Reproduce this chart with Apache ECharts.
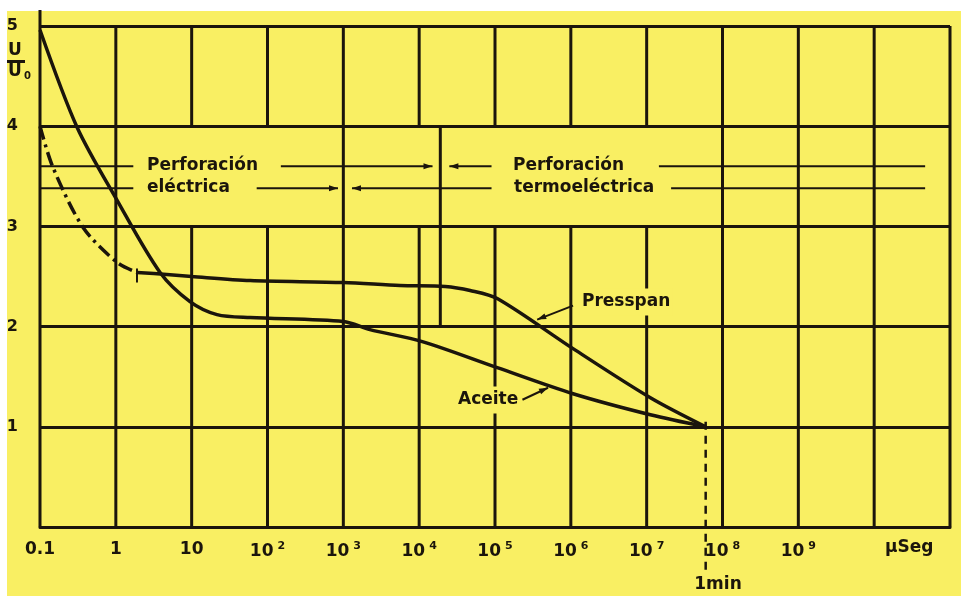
<!DOCTYPE html>
<html>
<head>
<meta charset="utf-8">
<script src="https://cdn.jsdelivr.net/npm/echarts@6/dist/echarts.min.js"></script>
</head>
<body style="margin:0;background:#fff">
<div id="main" style="width:961px;height:596px;"></div>
<script>
// tiempo en µs (eje log), tensión relativa U/U0
var presspanDashX = [0.1, 0.148, 0.37, 1.04, 1.9];
var presspanDashY = [4.0, 3.59, 2.99, 2.64, 2.54];
var presspanX = [1.9, 4.7, 10, 59, 1000, 5600, 22000, 47000, 107000, 1070000, 11200000, 60000000];
var presspanY = [2.54, 2.52, 2.50, 2.46, 2.44, 2.41, 2.40, 2.36, 2.28, 1.78, 1.29, 1.0];
var aceiteX = [0.1, 0.308, 1.04, 3.83, 9.5, 21.6, 59, 1000, 2240, 11000, 107000, 1070000, 11200000, 60000000];
var aceiteY = [4.96, 3.99, 3.26, 2.54, 2.25, 2.12, 2.09, 2.05, 1.97, 1.85, 1.59, 1.33, 1.12, 1.0];

// etiquetas del eje x, por exponente -1 .. 11
var xTickLabels = ['0.1', '1', '10', '10^2', '10^3', '10^4', '10^5', '10^6', '10^7', '10^8', '10^9', '', ''];

// lineas verticales de la cuadricula: [x, y desde, y hasta]
var gridLines = [
    [0.1, 0, 5.16], [1, 0, 5], [10, 0, 3], [10, 4, 5], [100, 0, 3], [100, 4, 5],
    [1e3, 0, 5], [1e4, 0, 3], [1e4, 4, 5], [1e5, 0, 3], [1e5, 4, 5],
    [1e6, 0, 3], [1e6, 4, 5], [1e7, 0, 3], [1e7, 4, 5],
    [1e8, 0, 5], [1e9, 0, 5], [1e10, 0, 5], [1e11, 0, 5],
    [19000, 2, 4]
];
// 1 min = 6e7 µs
var oneMin = [[60000000, 1.05, -0.45]];

// flechas / indicaciones: [x1, y1, x2, y2, punta inicio, punta fin]
var notes = [
    [0.1, 3.6, 1.7, 3.6, 0, 0], [150, 3.6, 15000, 3.6, 0, 1],
    [25000, 3.6, 90000, 3.6, 1, 0], [14500000, 3.6, 4.7e10, 3.6, 0, 0],
    [0.1, 3.38, 1.7, 3.38, 0, 0], [72, 3.38, 850, 3.38, 0, 1],
    [1300, 3.38, 90000, 3.38, 1, 0], [21000000, 3.38, 4.7e10, 3.38, 0, 0],
    [1070000, 2.21, 360000, 2.07, 0, 1],
    [230000, 1.27, 500000, 1.39, 0, 1],
    [1.9, 2.58, 1.9, 2.44, 0, 0]
];

var yellow = '#f9ef63';
var ink = '#1b150c';
var font = '"DejaVu Sans", sans-serif';

function zip(xs, ys) {
    return xs.map(function (x, i) { return [x, ys[i]]; });
}

function segItem(params, api) {
    var a = api.coord([api.value(0), api.value(1)]);
    var b = api.coord([api.value(0), api.value(2)]);
    return {
        type: 'line',
        shape: { x1: a[0], y1: a[1], x2: b[0], y2: b[1] },
        style: { stroke: ink, lineWidth: params.seriesName === 'min' ? 2.5 : 3, lineDash: params.seriesName === 'min' ? [8, 6] : null }
    };
}

function head(p, q) {
    // punta de flecha en p, apuntando desde q hacia p
    var dx = p[0] - q[0], dy = p[1] - q[1];
    var len = Math.sqrt(dx * dx + dy * dy) || 1;
    dx /= len; dy /= len;
    var L = 9, W = 3;
    return {
        type: 'polygon',
        shape: { points: [p, [p[0] - dx * L - dy * W, p[1] - dy * L + dx * W], [p[0] - dx * L + dy * W, p[1] - dy * L - dx * W]] },
        style: { fill: ink }
    };
}

function noteItem(params, api) {
    var a = api.coord([api.value(0), api.value(1)]);
    var b = api.coord([api.value(2), api.value(3)]);
    var kids = [{ type: 'line', shape: { x1: a[0], y1: a[1], x2: b[0], y2: b[1] }, style: { stroke: ink, lineWidth: 2 } }];
    if (api.value(4)) kids.push(head(a, b));
    if (api.value(5)) kids.push(head(b, a));
    return { type: 'group', children: kids };
}

function txt(s, x, y, extra) {
    var st = { text: s, x: x, y: y, font: 'bold 17px ' + font, fill: ink, verticalAlign: 'middle' };
    for (var k in extra) st[k] = extra[k];
    return { type: 'text', z: 10, style: st };
}

function curve(name, xs, ys, dash) {
    return {
        name: name, type: 'line', data: zip(xs, ys),
        smooth: 0.3, showSymbol: false, z: 4,
        lineStyle: { color: ink, width: 3.5, type: dash || 'solid' }
    };
}

var chart = echarts.init(document.getElementById('main'));
chart.setOption({
    backgroundColor: '#ffffff',
    animation: false,
    grid: { left: 40, top: 26, width: 910, height: 501 },
    xAxis: {
        type: 'log', logBase: 10, min: 0.1, max: 1e11, interval: 1,
        axisLine: { show: true, lineStyle: { color: ink, width: 3 } },
        axisTick: { show: false },
        splitLine: { show: false },
        axisLabel: {
            margin: 14,
            formatter: function (v) {
                var e = Math.round(Math.log10(v));
                var s = xTickLabels[e + 1] || '';
                if (s.indexOf('^') > 0) {
                    var p = s.split('^');
                    return '{b|' + p[0] + '}{s|' + p[1] + '}';
                }
                return '{b|' + s + '}';
            },
            rich: {
                b: { fontFamily: font, fontWeight: 'bold', fontSize: 17, color: ink },
                s: { fontFamily: font, fontWeight: 'bold', fontSize: 11, color: ink, padding: [0, 0, 10, 4] }
            }
        }
    },
    yAxis: {
        type: 'value', min: 0, max: 5, interval: 1,
        axisLine: { show: false },
        axisTick: { show: false },
        splitLine: { show: true, lineStyle: { color: ink, width: 3 } },
        axisLabel: {
            margin: 22, color: ink, fontFamily: font, fontWeight: 'bold', fontSize: 16,
            formatter: function (v) { return v === 0 ? '' : String(v); }
        }
    },
    graphic: [
        { type: 'rect', z: -10, silent: true, shape: { x: 7, y: 11, width: 954, height: 585 }, style: { fill: yellow } },
        txt('U', 15, 51, { align: 'center' }),
        { type: 'rect', z: 20, shape: { x: 7, y: 60, width: 18, height: 3 }, style: { fill: ink } },
        txt('U', 15, 72, { align: 'center' }),
        txt('0', 24, 76, { font: 'bold 10px ' + font }),
        txt('Perforación', 147, 166),
        txt('eléctrica', 147, 188),
        txt('Perforación', 513, 166),
        txt('termoeléctrica', 514, 188),
        txt('Presspan', 580, 302, { backgroundColor: yellow, padding: [5, 2] }),
        txt('Aceite', 456, 400, { backgroundColor: yellow, padding: [5, 2] }),
        txt('µSeg', 885, 548),
        txt('1min', 718, 585, { align: 'center' })
    ],
    series: [
        { name: 'grid', type: 'custom', renderItem: segItem, data: gridLines, z: 1, silent: true },
        { name: 'min', type: 'custom', renderItem: segItem, data: oneMin, z: 1, silent: true },
        { name: 'notes', type: 'custom', renderItem: noteItem, data: notes, z: 3, silent: true },
        curve('Presspan (inicio)', presspanDashX, presspanDashY, [14, 5, 3, 5]),
        curve('Presspan', presspanX, presspanY),
        curve('Aceite', aceiteX, aceiteY)
    ]
});
</script>
</body>
</html>
